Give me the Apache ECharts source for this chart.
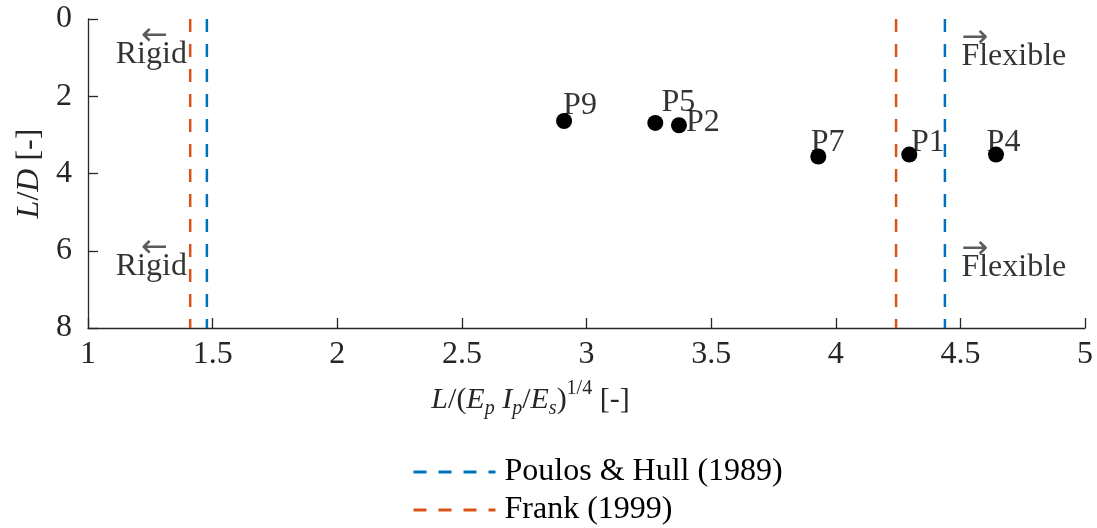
<!DOCTYPE html>
<html><head><meta charset="utf-8">
<script src="https://cdn.jsdelivr.net/npm/echarts@6/dist/echarts.min.js"></script>
<style>html,body{margin:0;padding:0;background:#fff}#c{width:1097px;height:528px}</style>
</head><body><div id="c"></div>
<script>
// ---- data ----
const pileNames = ['P9', 'P5', 'P2', 'P7', 'P1', 'P4'];
const pileX = [2.910, 3.276, 3.371, 3.930, 4.295, 4.643];
const pileY = [2.64, 2.69, 2.75, 3.56, 3.51, 3.51];
const pileLabelX = [2.906, 3.301, 3.399, 3.899, 4.302, 4.605];
const pileLabelY = [2.24, 2.16, 2.69, 3.19, 3.19, 3.19];
const limitNames = ['Poulos & Hull (1989)', 'Frank (1999)'];
const limitRigid = [1.477, 1.410];
const limitFlexible = [4.438, 4.242];
const xTicks = [1, 1.5, 2, 2.5, 3, 3.5, 4, 4.5, 5];
const yTicks = [0, 2, 4, 6, 8];
const zoneLabels = ['Rigid', 'Rigid', 'Flexible', 'Flexible'];
const zoneSide = ['left', 'left', 'right', 'right'];
const zoneX = [1.397, 1.397, 4.504, 4.504];
const zoneY = [0.93, 6.42, 0.97, 6.44];

// ---- styles ----
const FONT = 'Liberation Serif';
const FS = 32;
const AX = '#262626';
const COLORS = ['#0072BD', '#D95319'];
const DASH = [13, 12];

const chart = echarts.init(document.getElementById('c'), null, {renderer: 'canvas'});

const series = [];
limitNames.forEach((nm, i) => {
  [limitRigid[i], limitFlexible[i]].forEach(xv => {
    series.push({
      name: nm, type: 'line', symbol: 'none', showSymbol: false, silent: true,
      data: [[xv, yTicks[0]], [xv, yTicks[yTicks.length - 1]]],
      lineStyle: {color: COLORS[i], width: 2.5, type: DASH},
      itemStyle: {color: COLORS[i]}, z: 2
    });
  });
});

series.push({
  name: 'piles', type: 'scatter', symbol: 'circle', symbolSize: 16,
  itemStyle: {color: '#000', opacity: 1}, z: 4,
  data: pileX.map((x, i) => [x, pileY[i]])
});

series.push({
  name: 'pileLabels', type: 'scatter', symbolSize: 0.1, silent: true,
  itemStyle: {color: 'rgba(0,0,0,0)'}, z: 5,
  label: {show: true, position: 'right', distance: 0, fontFamily: FONT, fontSize: FS, color: '#000',
    formatter: p => pileNames[p.dataIndex]},
  data: pileLabelX.map((x, i) => [x, pileLabelY[i]])
});

series.push({
  name: 'zones', type: 'scatter', symbolSize: 0.1, silent: true,
  itemStyle: {color: 'rgba(0,0,0,0)'}, z: 5,
  data: zoneX.map((x, i) => {
    const left = zoneSide[i] === 'left';
    return {
      value: [x, zoneY[i]],
      label: {
        show: true, position: left ? 'left' : 'right', distance: 0, offset: [0, -4],
        formatter: (left ? '{al|←}' : '{ar|→}') + '\n{t|' + zoneLabels[i] + '}',
        rich: {
          al: {fontFamily: 'DejaVu Sans', fontSize: 32, lineHeight: 8, color: '#333', padding: [0, 19, 0, 0]},
          ar: {fontFamily: 'DejaVu Sans', fontSize: 32, lineHeight: 8, color: '#333', padding: [0, 0, 0, 0]},
          t: {fontFamily: FONT, fontSize: FS, lineHeight: 28, color: '#000'}
        }
      }
    };
  })
});

const ital = {fontFamily: FONT, fontStyle: 'italic', fontSize: 30, lineHeight: 40, verticalAlign: 'middle', color: AX};
const norm = {fontFamily: FONT, fontSize: 30, lineHeight: 40, verticalAlign: 'middle', color: AX};
const italY = Object.assign({}, ital, {fontSize: FS});
const normY = Object.assign({}, norm, {fontSize: FS});
const sub = {fontFamily: FONT, fontStyle: 'italic', fontSize: 20, lineHeight: 22, padding: [18, 0, 0, 0], verticalAlign: 'middle', color: AX};
const sup = {fontFamily: FONT, fontSize: 20, lineHeight: 22, padding: [0, 0, 22, 0], verticalAlign: 'middle', color: AX};

chart.setOption({
  animation: false,
  backgroundColor: '#fff',
  grid: {left: 88, right: 12, top: 19, bottom: 200, containLabel: false},
  legend: {
    orient: 'vertical', left: 412, top: 456, padding: 0, itemWidth: 82, itemHeight: 14, itemGap: 6,
    data: limitNames,
    itemStyle: {opacity: 0},
    lineStyle: {width: 3},
    textStyle: {fontFamily: FONT, fontSize: FS, lineHeight: 32, color: '#000', padding: [0, 0, 0, 4]}
  },
  xAxis: {
    type: 'value', min: xTicks[0], max: xTicks[xTicks.length - 1], interval: xTicks[1] - xTicks[0],
    splitLine: {show: false},
    axisLine: {show: true, onZero: false, lineStyle: {color: AX, width: 1.3}},
    axisTick: {show: true, inside: true, length: 10, lineStyle: {color: AX, width: 1.3}},
    axisLabel: {color: AX, fontFamily: FONT, fontSize: FS, margin: 11, showMinLabel: true, showMaxLabel: true,
      formatter: v => String(v)},
    name: '{i|L}{n|/(}{i|E}{sb|p}{n| }{i|I}{sb|p}{n|/}{i|E}{sb|s}{n|)}{sp|1/4}{n| [-]}',
    nameLocation: 'middle', nameGap: 52,
    nameTextStyle: {padding: [0, 112, 0, 0], rich: {i: ital, n: norm, sb: sub, sp: sup}}
  },
  yAxis: {
    type: 'value', inverse: true, min: yTicks[0], max: yTicks[yTicks.length - 1], interval: yTicks[1] - yTicks[0],
    splitLine: {show: false},
    axisLine: {show: true, onZero: false, lineStyle: {color: AX, width: 1.3}},
    axisTick: {show: true, inside: true, length: 10, lineStyle: {color: AX, width: 1.3}},
    axisLabel: {color: AX, fontFamily: FONT, fontSize: FS, margin: 16, showMinLabel: true, showMaxLabel: true},
    name: '{i|L}{n|/}{i|D}{n| [-]}',
    nameLocation: 'middle', nameGap: 35, nameRotate: 90,
    nameTextStyle: {rich: {i: italY, n: normY}}
  },
  series: series
});
</script>
</body></html>
